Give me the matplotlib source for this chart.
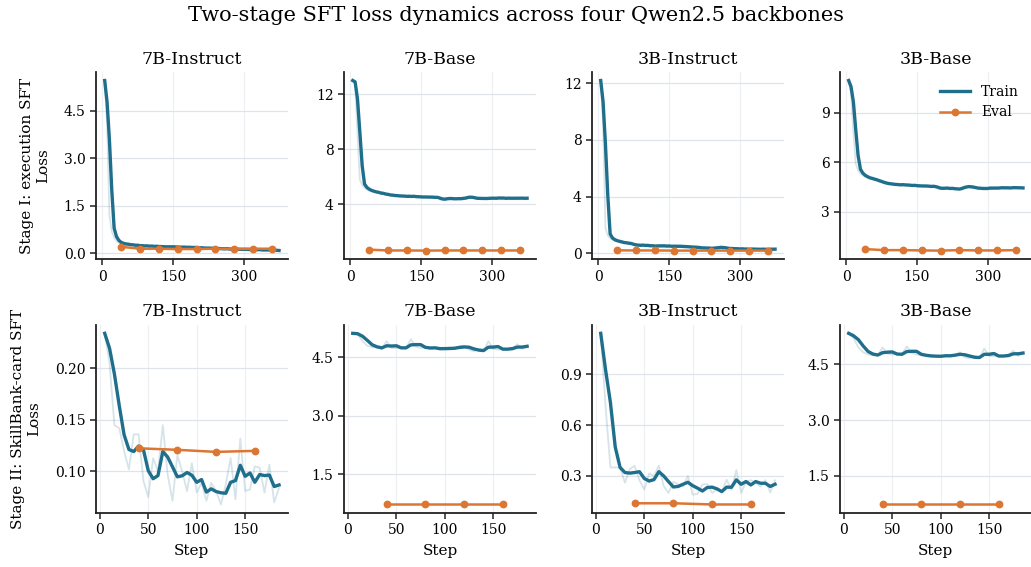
import numpy as np
import pandas as pd
import matplotlib
matplotlib.use("Agg")
import matplotlib.pyplot as plt

# ---- data ----
models = ["7B-Instruct", "7B-Base", "3B-Instruct", "3B-Base"]
stage_labels = ["Stage I: execution SFT\nLoss", "Stage II: SkillBank-card SFT\nLoss"]

stage1_steps = list(range(5, 380, 5))
stage2_steps = list(range(5, 190, 5))
stage1_eval_steps = [40, 80, 120, 160, 200, 240, 280, 320, 360]
stage2_eval_steps = [40, 80, 120, 160]

# Stage I raw train loss (logged every 5 steps)
s1_7b_instruct = [5.45, 4.10, 1.20, 0.70, 0.50, 0.40, 0.34, 0.31, 0.31, 0.28,
                  0.29, 0.26, 0.27, 0.25, 0.26, 0.23, 0.25, 0.23, 0.24, 0.22,
                  0.24, 0.21, 0.23, 0.22, 0.20, 0.22, 0.21, 0.20, 0.22, 0.21,
                  0.19, 0.21, 0.20, 0.19, 0.21, 0.18, 0.20, 0.19, 0.18, 0.19,
                  0.17, 0.18, 0.17, 0.16, 0.18, 0.16, 0.15, 0.17, 0.15, 0.14,
                  0.16, 0.14, 0.15, 0.13, 0.14, 0.15, 0.13, 0.12, 0.14, 0.13,
                  0.12, 0.13, 0.11, 0.12, 0.13, 0.11, 0.12, 0.10, 0.11, 0.12,
                  0.10, 0.11, 0.09, 0.10, 0.09]
s1_7b_base = [13.0, 12.8, 9.2, 5.8, 5.4, 5.2, 5.08, 5.0, 4.95, 4.9,
              4.85, 4.85, 4.75, 4.78, 4.7, 4.68, 4.65, 4.66, 4.6, 4.62,
              4.6, 4.58, 4.6, 4.55, 4.6, 4.56, 4.58, 4.52, 4.55, 4.54,
              4.5, 4.55, 4.52, 4.5, 4.53, 4.48, 4.5, 4.36, 4.32, 4.42,
              4.45, 4.38, 4.42, 4.4, 4.38, 4.44, 4.4, 4.45, 4.5, 4.55,
              4.5, 4.46, 4.44, 4.4, 4.45, 4.42, 4.4, 4.44, 4.46, 4.42,
              4.45, 4.44, 4.48, 4.43, 4.45, 4.42, 4.46, 4.44, 4.42, 4.46,
              4.44, 4.43, 4.46, 4.42, 4.44]
s1_3b_instruct = [12.2, 9.2, 1.8, 1.25, 1.05, 0.95, 0.88, 0.85, 0.8, 0.76,
                  0.72, 0.74, 0.68, 0.65, 0.58, 0.55, 0.6, 0.55, 0.58, 0.54,
                  0.56, 0.5, 0.54, 0.5, 0.52, 0.55, 0.5, 0.53, 0.5, 0.52,
                  0.48, 0.5, 0.52, 0.47, 0.5, 0.48, 0.45, 0.47, 0.44, 0.42,
                  0.45, 0.4, 0.38, 0.36, 0.4, 0.35, 0.37, 0.34, 0.38, 0.42,
                  0.4, 0.44, 0.38, 0.36, 0.34, 0.32, 0.35, 0.3, 0.32, 0.3,
                  0.33, 0.28, 0.3, 0.28, 0.32, 0.29, 0.27, 0.3, 0.28, 0.3,
                  0.27, 0.29, 0.31, 0.27, 0.3]
s1_3b_base = [10.95, 10.2, 7.8, 5.9, 5.5, 5.3, 5.2, 5.1, 5.05, 5.0,
              4.98, 4.92, 4.88, 4.82, 4.78, 4.72, 4.7, 4.68, 4.66, 4.65,
              4.62, 4.64, 4.6, 4.65, 4.6, 4.58, 4.62, 4.55, 4.6, 4.56,
              4.52, 4.58, 4.55, 4.52, 4.55, 4.5, 4.55, 4.48, 4.38, 4.4,
              4.45, 4.4, 4.42, 4.38, 4.42, 4.36, 4.35, 4.38, 4.45, 4.52,
              4.5, 4.52, 4.48, 4.45, 4.42, 4.4, 4.42, 4.38, 4.4, 4.42,
              4.45, 4.4, 4.42, 4.45, 4.42, 4.46, 4.44, 4.42, 4.45, 4.43,
              4.47, 4.44, 4.42, 4.46, 4.42]

s1_eval_7b_instruct = [0.21, 0.15, 0.15, 0.14, 0.14, 0.15, 0.14, 0.15, 0.15]
s1_eval_7b_base = [0.70, 0.64, 0.64, 0.63, 0.64, 0.64, 0.64, 0.64, 0.64]
s1_eval_3b_instruct = [0.21, 0.20, 0.20, 0.19, 0.19, 0.19, 0.19, 0.19, 0.19]
s1_eval_3b_base = [0.72, 0.66, 0.66, 0.64, 0.63, 0.66, 0.64, 0.64, 0.66]

# Stage II raw train loss
s2_7b_instruct = [0.234, 0.205, 0.145, 0.142, 0.120, 0.102, 0.136, 0.136, 0.091, 0.075,
                  0.113, 0.100, 0.145, 0.097, 0.0715, 0.116, 0.100, 0.081, 0.108, 0.0795,
                  0.089, 0.0715, 0.089, 0.081, 0.068, 0.0875, 0.113, 0.073, 0.132, 0.081,
                  0.0826, 0.105, 0.1035, 0.0795, 0.1067, 0.070, 0.084]
s2_7b_base = [5.12, 5.10, 4.92, 4.80, 4.76, 4.76, 4.72, 4.92, 4.74, 4.74,
              4.76, 4.74, 4.97, 4.78, 4.74, 4.76, 4.73, 4.75, 4.70, 4.73,
              4.76, 4.72, 4.79, 4.80, 4.70, 4.66, 4.71, 4.66, 4.92, 4.72,
              4.70, 4.72, 4.72, 4.74, 4.84, 4.72, 4.80]
s2_3b_instruct = [1.14, 0.71, 0.35, 0.35, 0.35, 0.26, 0.34, 0.36, 0.275, 0.22,
                  0.315, 0.30, 0.36, 0.24, 0.20, 0.265, 0.25, 0.238, 0.30, 0.19,
                  0.194, 0.25, 0.252, 0.20, 0.22, 0.204, 0.278, 0.218, 0.335, 0.20,
                  0.266, 0.275, 0.26, 0.236, 0.275, 0.203, 0.275]
s2_3b_base = [5.33, 5.20, 4.95, 4.82, 4.76, 4.74, 4.74, 4.95, 4.78, 4.76,
              4.78, 4.76, 4.98, 4.80, 4.76, 4.74, 4.72, 4.71, 4.72, 4.71,
              4.75, 4.72, 4.76, 4.82, 4.68, 4.66, 4.72, 4.66, 4.92, 4.72,
              4.72, 4.72, 4.72, 4.76, 4.86, 4.72, 4.82]

s2_eval_7b_instruct = [0.1225, 0.121, 0.119, 0.120]
s2_eval_7b_base = [0.72, 0.72, 0.72, 0.72]
s2_eval_3b_instruct = [0.139, 0.139, 0.132, 0.132]
s2_eval_3b_base = [0.73, 0.73, 0.73, 0.73]

stage1_yticks = [[0.0, 1.5, 3.0, 4.5], [4, 8, 12], [0, 4, 8, 12], [3, 6, 9]]
stage2_yticks = [[0.10, 0.15, 0.20], [1.5, 3.0, 4.5], [0.3, 0.6, 0.9], [1.5, 3.0, 4.5]]
stage1_xticks = [0, 150, 300]
stage2_xticks = [0, 50, 100, 150]

TRAIN_COLOR = "#1f6e8c"
EVAL_COLOR = "#dc7633"


def plot_panel(ax, steps, raw, eval_steps, eval_vals, title, yticks, xticks):
    smooth = pd.Series(raw).rolling(3, min_periods=1).mean()
    ax.plot(steps, raw, color=TRAIN_COLOR, alpha=0.18, lw=1.3)
    ax.plot(steps, smooth, color=TRAIN_COLOR, lw=2.4, label="Train")
    ax.plot(eval_steps, eval_vals, color=EVAL_COLOR, lw=1.8, marker="o", ms=4.6, label="Eval")

    ax.set_title(title, fontsize=12.5, pad=6)
    ax.set_yticks(yticks)
    ax.set_xticks(xticks)
    ax.grid(axis="y", color="#dfe3ea", lw=0.9)
    ax.grid(axis="x", color="#eef0f4", lw=0.9)
    ax.set_axisbelow(True)
    for side in ["top", "right"]:
        ax.spines[side].set_visible(False)
    for side in ["left", "bottom"]:
        ax.spines[side].set_linewidth(1.3)
        ax.spines[side].set_color("#222222")
    ax.tick_params(labelsize=10, length=4, width=1.1, color="#222222")


def main():
    plt.rcParams["font.family"] = ["DejaVu Serif"]
    fig = plt.figure(figsize=(10.31, 5.67), dpi=100)

    lefts = [0.0931, 0.3337, 0.5742, 0.8147]
    width = 0.186
    rows = [(0.543, 0.330), (0.0952, 0.332)]

    stage1 = [(s1_7b_instruct, s1_eval_7b_instruct), (s1_7b_base, s1_eval_7b_base),
              (s1_3b_instruct, s1_eval_3b_instruct), (s1_3b_base, s1_eval_3b_base)]
    stage2 = [(s2_7b_instruct, s2_eval_7b_instruct), (s2_7b_base, s2_eval_7b_base),
              (s2_3b_instruct, s2_eval_3b_instruct), (s2_3b_base, s2_eval_3b_base)]

    for col in range(4):
        ax = fig.add_axes([lefts[col], rows[0][0], width, rows[0][1]])
        plot_panel(ax, stage1_steps, stage1[col][0], stage1_eval_steps, stage1[col][1],
                   models[col], stage1_yticks[col], stage1_xticks)
        if col == 0:
            ax.set_ylabel(stage_labels[0], fontsize=11, labelpad=10)
        if col == 3:
            ax.legend(loc="upper right", frameon=False, fontsize=10, handlelength=2.2)

        ax = fig.add_axes([lefts[col], rows[1][0], width, rows[1][1]])
        plot_panel(ax, stage2_steps, stage2[col][0], stage2_eval_steps, stage2[col][1],
                   models[col], stage2_yticks[col], stage2_xticks)
        ax.set_xlabel("Step", fontsize=11, labelpad=5)
        if col == 0:
            ax.set_ylabel(stage_labels[1], fontsize=11, labelpad=10)

    fig.suptitle("Two-stage SFT loss dynamics across four Qwen2.5 backbones", fontsize=15, y=0.99)
    fig.savefig("out.png", dpi=100)


if __name__ == "__main__":
    main()
